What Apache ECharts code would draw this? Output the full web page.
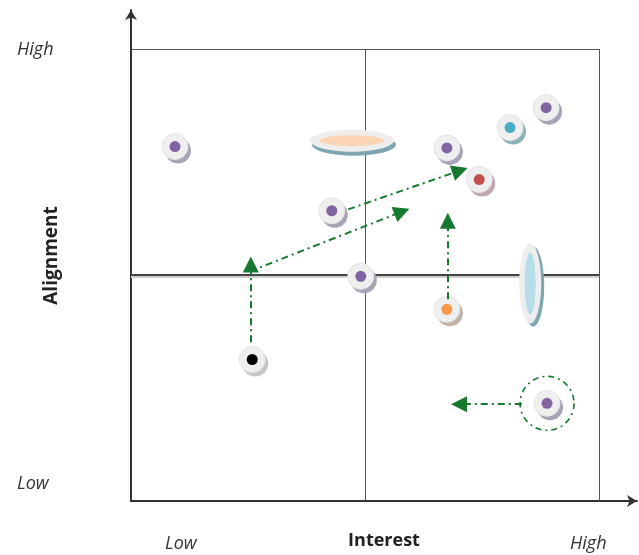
<!DOCTYPE html>
<html><head><meta charset="utf-8">
<script src="https://cdn.jsdelivr.net/npm/echarts@6/dist/echarts.min.js"></script>
<style>html,body{margin:0;padding:0;background:#fff}#c{width:639px;height:555px}</style>
</head><body><div id="c"></div>
<script>
// Data (x = Interest 0..10, y = Alignment 0..10)
const purplePts = [[0.94,7.84],[6.75,7.81],[8.87,8.70],[4.29,6.42],[4.91,4.97],[8.89,2.16]];
const cyanPts = [[8.10,8.26]];
const redPts = [[7.44,7.11]];
const orangePts = [[6.75,4.24]];
const blackPts = [[2.59,3.13]];
const hEllipse = [[4.72,7.97]];
const vEllipse = [[8.53,4.81]];
const circledPts = [[8.89,2.16]];
const arrows = [
  [[2.56,3.51],[2.56,5.23]],
  [[2.54,5.08],[5.79,6.40]],
  [[4.64,6.45],[7.03,7.31]],
  [[6.77,4.46],[6.77,6.20]],
  [[8.35,2.14],[7.01,2.14]]
];
const axisLabelsY = ['Low','High'];
const axisLabelsX = ['Low','High'];

const GREEN = '#17792f';
const DASH = [7,4,2,4];

function disc(data, color, shadow){
  return [
    {type:'scatter', data, symbolSize:26, symbolOffset:[3,4], silent:true,
     itemStyle:{color:shadow, opacity:1}, z:5},
    {type:'scatter', data, symbolSize:26, silent:true,
     itemStyle:{color:'#efefef', borderColor:'#e4e4e4', borderWidth:1, opacity:1}, z:6},
    {type:'scatter', data, symbolSize:11, silent:true,
     itemStyle:{color:color, opacity:1}, z:7}
  ];
}

const series = [
  // frame lines and quadrant dividers
  {type:'line', data:[], z:1, markLine:{silent:true, symbol:'none', label:{show:false},
    lineStyle:{color:'#555', width:1, type:'solid'},
    data:[
      [{coord:[0,10]},{coord:[10,10]}],
      [{coord:[10,0]},{coord:[10,10]}],
      [{coord:[5,0]},{coord:[5,10]}]
    ]}},
  {type:'line', data:[], z:1, markLine:{silent:true, symbol:'none', label:{show:false},
    lineStyle:{color:'#cfcfcf', width:2, type:'solid'},
    data:[[{coord:[0,4.96]},{coord:[10,4.96]}]]}},
  {type:'line', data:[], z:1, markLine:{silent:true, symbol:'none', label:{show:false},
    lineStyle:{color:'#444', width:2, type:'solid'},
    data:[[{coord:[0,5]},{coord:[10,5]}]]}},
  // ellipses
  {type:'scatter', data:hEllipse, symbolSize:[84,22], symbolOffset:[2,4], silent:true, itemStyle:{color:'#7ea6b0',opacity:1}, z:5},
  {type:'scatter', data:hEllipse, symbolSize:[84,22], silent:true, itemStyle:{color:'#eeeeee',opacity:1}, z:6},
  {type:'scatter', data:hEllipse, symbolSize:[64,11], silent:true, itemStyle:{color:'#fbd4b4',opacity:1}, z:7},
  {type:'scatter', data:vEllipse, symbolSize:[22,80], symbolOffset:[3,3], silent:true, itemStyle:{color:'#7ea6b0',opacity:1}, z:5},
  {type:'scatter', data:vEllipse, symbolSize:[22,80], silent:true, itemStyle:{color:'#eeeeee',opacity:1}, z:6},
  {type:'scatter', data:vEllipse, symbolSize:[11,62], silent:true, itemStyle:{color:'#b7dde8',opacity:1}, z:7},
  ...disc(purplePts, '#8064a2', '#aaa3b6'),
  ...disc(cyanPts, '#4bacc6', '#8fb3bb'),
  ...disc(redPts, '#c0504d', '#bfa9ad'),
  ...disc(orangePts, '#f79646', '#c2afa6'),
  ...disc(blackPts, '#000000', '#c6c6c6'),
  // dashed ring
  {type:'scatter', data:circledPts, symbolSize:54, silent:true,
   itemStyle:{color:'rgba(0,0,0,0)', borderColor:GREEN, borderWidth:1.6, borderType:[6,4,2,4], opacity:1}, z:8},
  // arrows
  {type:'lines', coordinateSystem:'cartesian2d', silent:true, z:9,
   symbol:['none','triangle'], symbolSize:[14,16],
   lineStyle:{color:GREEN, width:2, type:DASH, opacity:1},
   data: arrows.map(a => ({coords:a}))}
];

const chart = echarts.init(document.getElementById('c'), null, {renderer:'canvas'});
chart.setOption({
  animation:false,
  backgroundColor:'#fff',
  grid:{left:131, top:10, right:2, bottom:52, containLabel:false},
  xAxis:{type:'value', min:0, max:10.812, splitLine:{show:false}, axisTick:{show:false}, axisLabel:{show:false},
    axisLine:{show:true, onZero:false, symbol:['none','arrow'], symbolSize:[9,10], lineStyle:{color:'#333', width:2}},
    name:'Interest', nameLocation:'middle', nameGap:31,
    nameTextStyle:{fontFamily:'Open Sans', fontWeight:'bold', fontSize:18, color:'#222'}},
  yAxis:{type:'value', min:0, max:10.86, splitLine:{show:false}, axisTick:{show:false}, axisLabel:{show:false},
    axisLine:{show:true, onZero:false, symbol:['none','arrow'], symbolSize:[9,10], lineStyle:{color:'#333', width:2}},
    name:'Alignment', nameLocation:'middle', nameGap:70, nameRotate:90,
    nameTextStyle:{fontFamily:'Open Sans', fontWeight:'bold', fontSize:19, color:'#222'}},
  title:[
    {text:axisLabelsY[1], left:12, top:36, textStyle:{fontFamily:'Open Sans', fontStyle:'italic', fontWeight:'normal', fontSize:18, color:'#333'}},
    {text:axisLabelsY[0], left:12, top:470, textStyle:{fontFamily:'Open Sans', fontStyle:'italic', fontWeight:'normal', fontSize:18, color:'#333'}},
    {text:axisLabelsX[0], left:160, top:530, textStyle:{fontFamily:'Open Sans', fontStyle:'italic', fontWeight:'normal', fontSize:18, color:'#333'}},
    {text:axisLabelsX[1], left:565, top:530, textStyle:{fontFamily:'Open Sans', fontStyle:'italic', fontWeight:'normal', fontSize:18, color:'#333'}}
  ],
  series
});
</script></body></html>
